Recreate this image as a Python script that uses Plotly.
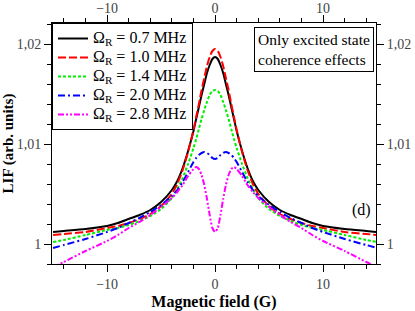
import plotly.graph_objects as go

# Magnetic field (G)
field = [-15, -14, -12, -10, -9, -8, -7, -6, -5, -4, -3.5, -3, -2.5, -2, -1.75, -1.5, -1.25, -1, -0.75, -0.5, -0.25, 0,
         0.25, 0.5, 0.75, 1, 1.25, 1.5, 1.75, 2, 2.5, 3, 3.5, 4, 5, 6, 7, 8, 9, 10, 12, 14, 15]

lif_07 = [1.0012, 1.0013, 1.0015, 1.0018, 1.0021, 1.0025, 1.0029, 1.0034, 1.0042, 1.0054, 1.0063, 1.0076, 1.0093, 1.0113, 1.0125, 1.0137, 1.0149, 1.0160, 1.0171, 1.0179, 1.0185, 1.0187,
          1.0185, 1.0179, 1.0171, 1.0160, 1.0149, 1.0137, 1.0125, 1.0113, 1.0093, 1.0076, 1.0063, 1.0054, 1.0042, 1.0034, 1.0029, 1.0025, 1.0021, 1.0018, 1.0015, 1.0013, 1.0012]
lif_10 = [1.0009, 1.0010, 1.0012, 1.0016, 1.0018, 1.0021, 1.0025, 1.0030, 1.0038, 1.0050, 1.0060, 1.0074, 1.0092, 1.0114, 1.0127, 1.0140, 1.0154, 1.0166, 1.0178, 1.0187, 1.0193, 1.0195,
          1.0193, 1.0187, 1.0178, 1.0166, 1.0154, 1.0140, 1.0127, 1.0114, 1.0092, 1.0074, 1.0060, 1.0050, 1.0038, 1.0030, 1.0025, 1.0021, 1.0018, 1.0016, 1.0012, 1.0010, 1.0009]
lif_14 = [1.0002, 1.0004, 1.0009, 1.0014, 1.0016, 1.0019, 1.0023, 1.0028, 1.0035, 1.0046, 1.0055, 1.0066, 1.0080, 1.0096, 1.0105, 1.0115, 1.0125, 1.0134, 1.0142, 1.0149, 1.0153, 1.0154,
          1.0153, 1.0149, 1.0142, 1.0134, 1.0125, 1.0115, 1.0105, 1.0096, 1.0080, 1.0066, 1.0055, 1.0046, 1.0035, 1.0028, 1.0023, 1.0019, 1.0016, 1.0014, 1.0009, 1.0004, 1.0002]
lif_20 = [0.9996, 0.9999, 1.0005, 1.0012, 1.0016, 1.0021, 1.0026, 1.0032, 1.0039, 1.0048, 1.0054, 1.0062, 1.0072, 1.0082, 1.0086, 1.0089, 1.0091, 1.0092, 1.0091, 1.0089, 1.0086, 1.0085,
          1.0086, 1.0089, 1.0091, 1.0092, 1.0091, 1.0089, 1.0086, 1.0082, 1.0072, 1.0062, 1.0054, 1.0048, 1.0039, 1.0032, 1.0026, 1.0021, 1.0016, 1.0012, 1.0005, 0.9999, 0.9996]
lif_28 = [0.9977, 0.9982, 0.9993, 1.0003, 1.0009, 1.0016, 1.0022, 1.0029, 1.0037, 1.0046, 1.0052, 1.0059, 1.0068, 1.0075, 1.0077, 1.0075, 1.0069, 1.0059, 1.0045, 1.0029, 1.0016, 1.0012,
          1.0016, 1.0029, 1.0045, 1.0059, 1.0069, 1.0075, 1.0077, 1.0075, 1.0068, 1.0059, 1.0052, 1.0046, 1.0037, 1.0029, 1.0022, 1.0016, 1.0009, 1.0003, 0.9993, 0.9982, 0.9977]

series_names = ["Ω<sub>R</sub> = 0.7 MHz", "Ω<sub>R</sub> = 1.0 MHz", "Ω<sub>R</sub> = 1.4 MHz",
                "Ω<sub>R</sub> = 2.0 MHz", "Ω<sub>R</sub> = 2.8 MHz"]
series_values = [lif_07, lif_10, lif_14, lif_20, lif_28]
colors = ["#000000", "#ff0000", "#00ee00", "#0000ff", "#ff00ff"]
dashes = ["solid", "8px,3px", "3px,2px", "7px,3px,2px,3px", "6px,2px,2px,2px,2px,2px"]

FONT = "Liberation Serif, Times New Roman, serif"

fig = go.Figure()
for name, vals, c, d in zip(series_names, series_values, colors, dashes):
    fig.add_trace(go.Scatter(x=field, y=vals, mode="lines",
                             name='<span style="font-size:16px">' + name + '</span>',
                             line=dict(color=c, width=2, dash=d, shape="spline", smoothing=0.6),
                             hoverinfo="skip"))

# invisible trace to anchor the mirrored top/right axes
fig.add_trace(go.Scatter(x=field, y=lif_07, xaxis="x2", yaxis="y2", mode="lines",
                         line=dict(width=0), opacity=0, showlegend=False, hoverinfo="skip"))

xr = [-15.1, 14.9]
yr = [0.998, 1.0221]
axis_common = dict(showgrid=False, zeroline=False, showline=True, linecolor="black", linewidth=1,
                   ticks="outside", tickcolor="black", ticklen=7, tickwidth=1, automargin=False,
                   tickfont=dict(family=FONT, size=14, color="#444"))

fig.update_layout(
    width=415, height=311,
    margin=dict(l=52, r=39, t=23, b=47, autoexpand=False),
    paper_bgcolor="white", plot_bgcolor="white",
    separators=",.",
    font=dict(family=FONT, color="black"),
    xaxis=dict(range=xr, dtick=10, tick0=0,
               minor=dict(dtick=2, tick0=0, ticks="outside", ticklen=4, tickcolor="black"),
               title=dict(text="<b>Magnetic field (G)</b>", font=dict(family=FONT, size=16), standoff=6),
               **axis_common),
    xaxis2=dict(range=xr, dtick=10, tick0=0, overlaying="x", side="top", matches="x",
                ticklabelstandoff=-4,
                minor=dict(dtick=2, tick0=0, ticks="outside", ticklen=4, tickcolor="black"),
                **axis_common),
    yaxis=dict(range=yr, dtick=0.01, tick0=1,
               minor=dict(dtick=0.002, tick0=1, ticks="outside", ticklen=4, tickcolor="black"),
               title=dict(text="<b>LIF (arb. units)</b>", font=dict(family=FONT, size=15), standoff=6),
               **axis_common),
    yaxis2=dict(range=yr, dtick=0.01, tick0=1, overlaying="y", side="right", matches="y",
                minor=dict(dtick=0.002, tick0=1, ticks="outside", ticklen=4, tickcolor="black"),
                **axis_common),
    legend=dict(x=0, y=1, xanchor="left", yanchor="top", bgcolor="white",
                bordercolor="black", borderwidth=1, font=dict(family=FONT, size=10.8, color="black"),
                tracegroupgap=0, itemwidth=30),
    annotations=[
        dict(text="Only excited state<br>coherence effects", xref="paper", yref="paper",
             x=0.994, y=0.983, xanchor="right", yanchor="top", showarrow=False, align="left",
             font=dict(family=FONT, size=15.5, color="black"), bordercolor="black", borderwidth=1,
             borderpad=3, bgcolor="white"),
        dict(text="(d)", xref="paper", yref="paper", x=0.955, y=0.225, xanchor="center",
             yanchor="middle", showarrow=False, font=dict(family=FONT, size=16, color="black")),
    ],
)

fig.write_html("out.html", config={"displayModeBar": False},
               post_script="document.body.style.margin='0';document.body.style.overflow='hidden';")
